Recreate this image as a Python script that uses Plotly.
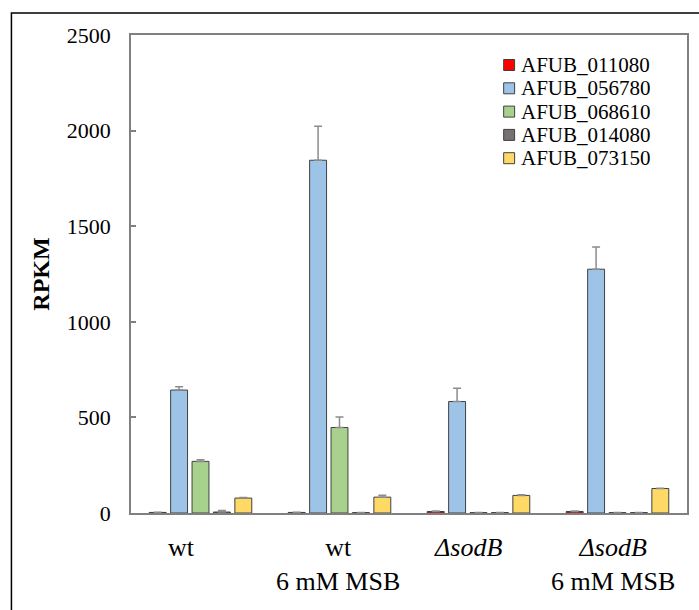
import plotly.graph_objects as go

categories = ["wt", "wt MSB", "sodB", "sodB MSB"]
cat_labels = ["wt", "wt<br>6 mM MSB", "<i>ΔsodB</i>", "<i>ΔsodB</i><br>6 mM MSB"]
label_shift = [-19, -2, -11, -5]

series_names = ["AFUB_011080", "AFUB_056780", "AFUB_068610", "AFUB_014080", "AFUB_073150"]
series_colors = ["#FF0000", "#9DC3E6", "#A9D18E", "#767171", "#FFD966"]

values = {
    "AFUB_011080": [3, 3, 8, 8],
    "AFUB_056780": [643, 1845, 583, 1275],
    "AFUB_068610": [270, 447, 2, 2],
    "AFUB_014080": [5, 2, 2, 2],
    "AFUB_073150": [78, 83, 92, 128],
}
errors = {
    "AFUB_011080": [1, 1, 2, 2],
    "AFUB_056780": [17, 178, 70, 116],
    "AFUB_068610": [8, 55, 0.5, 0.5],
    "AFUB_014080": [8, 1, 0.5, 0.5],
    "AFUB_073150": [3, 10, 3, 2],
}

y_ticks = [0, 500, 1000, 1500, 2000, 2500]

FONT = "Liberation Serif, Times New Roman, serif"

fig = go.Figure()
for name, col in zip(series_names, series_colors):
    fig.add_trace(go.Bar(
        x=categories, y=values[name], name=name, showlegend=False,
        marker=dict(color=col, line=dict(color="#404040", width=1)),
        error_y=dict(type="data", array=errors[name], arrayminus=[0] * len(categories),
                     symmetric=False, color="#8C8C8C", thickness=1.5, width=4),
    ))

W, H = 699, 610
L, R, T, B = 131, 10, 35, 97
pw, ph = W - L - R, H - T - B

def px_x(px):
    return (px - L) / pw

def px_y(py):
    return (H - B - py) / ph

fig.update_layout(
    width=W, height=H,
    margin=dict(l=L, r=R, t=T, b=B, pad=0),
    paper_bgcolor="white", plot_bgcolor="white",
    barmode="group", bargap=0.23, bargroupgap=0.21,
    font=dict(family=FONT, size=22, color="black"),
    showlegend=False,
    xaxis=dict(showticklabels=False, ticks="", showline=True, linecolor="#808080",
               linewidth=1.5, mirror=True, showgrid=False, zeroline=False),
    yaxis=dict(range=[0, 2500], tickvals=y_ticks, ticks="inside", ticklen=5,
               tickcolor="#808080", tickwidth=1.5, showline=True, linecolor="#808080",
               linewidth=1.5, mirror=True, showgrid=False, zeroline=False,
               ticklabelstandoff=14,
               tickfont=dict(family=FONT, size=22, color="black"),
               title=dict(text="<b>RPKM</b>", font=dict(family=FONT, size=24, color="black"),
                          standoff=10)),
)

# x category labels
for c, lab, sh in zip(categories, cat_labels, label_shift):
    fig.add_annotation(x=c, xref="x", y=0, yref="paper", yanchor="top", yshift=-18,
                       xshift=sh, text=lab, showarrow=False, align="center",
                       font=dict(family=FONT, size=26, color="black"))

# legend (drawn manually to match the compact row spacing)
leg_x0, leg_y0, leg_dy, sq = 505, 65, 23.3, 11
for i, (name, col) in enumerate(zip(series_names, series_colors)):
    cy = leg_y0 + i * leg_dy
    fig.add_shape(type="rect", xref="paper", yref="paper",
                  x0=px_x(leg_x0), x1=px_x(leg_x0 + sq),
                  y0=px_y(cy + sq / 2), y1=px_y(cy - sq / 2),
                  line=dict(color="#404040", width=1), fillcolor=col)
    fig.add_annotation(xref="paper", yref="paper", x=px_x(leg_x0 + sq + 5), y=px_y(cy),
                       xanchor="left", yanchor="middle", text=name, showarrow=False,
                       font=dict(family=FONT, size=21, color="black"), borderpad=0)

# outer frame
fig.add_shape(type="rect", xref="paper", yref="paper",
              x0=px_x(11), x1=px_x(703), y0=px_y(616), y1=px_y(13),
              line=dict(color="black", width=1.5), fillcolor="rgba(0,0,0,0)", layer="below")

fig.write_html("out.html")
